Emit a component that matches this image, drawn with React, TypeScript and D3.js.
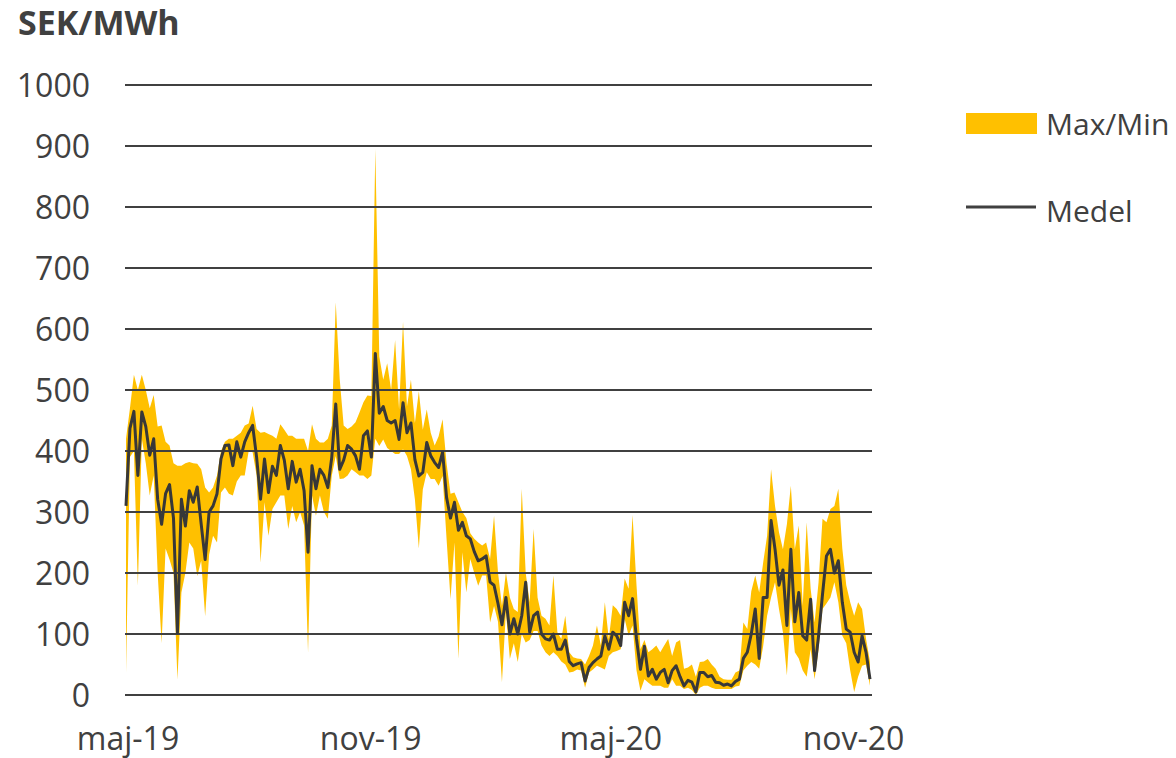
import React from "react";
import * as d3 from "d3";

// Daily spot price series sampled every 3 days, starting 2019-05-01 (SEK/MWh)
const START_DATE = "2019-05-01";
const STEP_DAYS = 3;

const medel: number[] = [
  310, 437, 465, 360, 464, 440, 393, 420, 321, 280, 330, 345, 290, 102, 321, 277, 335, 316, 341, 280,
  222, 300, 310, 330, 387, 409, 410, 376, 415, 390, 415, 430, 442, 390, 321, 387, 332, 375, 360, 409,
  385, 338, 383, 349, 370, 335, 234, 376, 338, 370, 360, 340, 390, 477, 370, 385, 409, 403, 392, 370,
  425, 433, 390, 560, 462, 473, 450, 446, 450, 419, 479, 430, 446, 386, 359, 365, 414, 392, 381, 373,
  398, 324, 290, 316, 270, 283, 261, 256, 235, 220, 223, 228, 185, 180, 150, 115, 160, 100, 125, 100,
  130, 185, 103, 130, 136, 100, 92, 90, 100, 75, 75, 90, 55, 48, 51, 53, 23, 45, 53, 59,
  64, 97, 75, 103, 97, 81, 152, 130, 158, 92, 42, 80, 31, 42, 26, 37, 42, 20, 40, 48,
  30, 15, 24, 21, 5, 37, 37, 30, 32, 21, 20, 16, 18, 15, 22, 26, 60, 70, 100, 141,
  60, 160, 160, 286, 239, 180, 205, 114, 239, 120, 168, 97, 90, 157, 40, 97, 165, 228, 239, 200,
  220, 152, 108, 103, 70, 54, 97, 70, 26,
];

const maxVal: number[] = [
  420, 470, 525, 500, 525, 500, 470, 492, 440, 442, 415, 409, 380, 376, 376, 380, 382, 380, 379, 370,
  340, 332, 340, 360, 400, 415, 420, 420, 425, 430, 442, 445, 474, 436, 430, 431, 428, 425, 420, 444,
  435, 425, 425, 420, 420, 420, 400, 444, 420, 414, 414, 420, 442, 644, 518, 442, 436, 440, 447, 463,
  480, 491, 490, 895, 555, 517, 544, 500, 582, 468, 612, 473, 517, 446, 498, 435, 468, 430, 409, 424,
  452, 380, 330, 332, 316, 300, 290, 265, 256, 250, 245, 250, 223, 294, 201, 146, 201, 160, 141, 136,
  338, 200, 152, 272, 160, 130, 125, 114, 196, 103, 92, 130, 70, 62, 60, 59, 50, 64, 81, 114,
  81, 152, 92, 147, 141, 130, 191, 174, 295, 180, 75, 90, 70, 75, 81, 70, 81, 92, 64, 86,
  90, 43, 45, 50, 30, 54, 55, 59, 50, 43, 30, 26, 25, 25, 37, 40, 119, 108, 170, 196,
  168, 217, 261, 370, 310, 267, 239, 280, 343, 239, 278, 146, 283, 174, 119, 185, 289, 283, 305, 310,
  338, 240, 180, 152, 130, 152, 141, 92, 54,
];

const minVal: number[] = [
  36, 390, 400, 179, 420, 380, 327, 360, 200, 85, 240, 222, 200, 25, 168, 200, 250, 240, 195, 220,
  129, 230, 261, 250, 332, 340, 330, 327, 350, 360, 360, 400, 398, 360, 217, 316, 261, 305, 316, 327,
  327, 272, 310, 283, 300, 278, 70, 327, 294, 327, 300, 289, 360, 392, 354, 355, 360, 370, 365, 360,
  360, 354, 360, 420, 408, 419, 405, 400, 395, 395, 403, 392, 370, 321, 240, 337, 365, 354, 354, 343,
  359, 256, 157, 250, 59, 234, 168, 223, 200, 179, 196, 196, 119, 146, 120, 21, 136, 59, 85, 54,
  100, 86, 90, 105, 105, 81, 70, 64, 70, 64, 55, 50, 37, 38, 42, 40, 12, 37, 42, 48,
  45, 42, 64, 70, 72, 75, 125, 97, 114, 40, 7, 26, 20, 15, 15, 15, 12, 12, 26, 15,
  15, 10, 12, 8, 0, 12, 15, 15, 12, 10, 10, 10, 10, 10, 14, 15, 40, 48, 54, 50,
  43, 80, 130, 160, 185, 141, 103, 32, 141, 70, 60, 40, 30, 75, 26, 75, 141, 150, 160, 185,
  152, 97, 85, 40, 5, 30, 48, 50, 15,
];

const yTicks: number[] = [0, 100, 200, 300, 400, 500, 600, 700, 800, 900, 1000];
const xTickDates: string[] = ["2019-05-01", "2019-11-01", "2020-05-01", "2020-11-01"];
const xTickLabels: string[] = ["maj-19", "nov-19", "maj-20", "nov-20"];

const W = 1176;
const H = 758;
const PLOT_LEFT = 125;
const PLOT_RIGHT = 872;
const TEXT = "#404040";
const GOLD = "#FFC000";
const FONT = "'Open Sans', 'Noto Sans', sans-serif";

export default function App() {
  const parse = d3.timeParse("%Y-%m-%d");
  const start = parse(START_DATE) as Date;
  const dates = medel.map((_, i) => d3.timeDay.offset(start, i * STEP_DAYS));

  const x = d3
    .scaleTime()
    .domain([start, parse("2020-11-15") as Date])
    .range([126, 870]);
  const y = d3.scaleLinear().domain([0, 1000]).range([695, 85]);

  const rows = dates.map((d, i) => ({ d, mean: medel[i], hi: maxVal[i], lo: minVal[i] }));

  const area = d3
    .area<(typeof rows)[number]>()
    .x((r) => x(r.d))
    .y0((r) => y(r.lo))
    .y1((r) => y(r.hi));
  const line = d3
    .line<(typeof rows)[number]>()
    .x((r) => x(r.d))
    .y((r) => y(r.mean));

  return (
    <svg
      width={W}
      height={H}
      style={{ position: "absolute", left: 0, top: 0, background: "#fff" }}
      fontFamily={FONT}
    >
      <text x={18} y={35} fontSize={34} fontWeight="bold" fill={TEXT}>
        SEK/MWh
      </text>

      <path d={area(rows) ?? ""} fill={GOLD} stroke="none" />

      {yTicks.map((t) => (
        <g key={t}>
          <line x1={PLOT_LEFT} x2={PLOT_RIGHT} y1={y(t)} y2={y(t)} stroke={TEXT} strokeWidth={2} />
          <text x={90} y={y(t) + 12} fontSize={32} textAnchor="end" fill={TEXT}>
            {t}
          </text>
        </g>
      ))}

      <path d={line(rows) ?? ""} fill="none" stroke="#383838" strokeWidth={3} strokeLinejoin="round" />

      {xTickDates.map((ds, i) => (
        <text key={ds} x={x(parse(ds) as Date) + 2} y={750} fontSize={32} textAnchor="middle" fill={TEXT}>
          {xTickLabels[i]}
        </text>
      ))}

      <rect x={966} y={113} width={71} height={21} fill={GOLD} />
      <text x={1046} y={135} fontSize={30} fill={TEXT}>
        Max/Min
      </text>
      <line x1={966} x2={1036} y1={207} y2={207} stroke={TEXT} strokeWidth={3} />
      <text x={1046} y={222} fontSize={30} fill={TEXT}>
        Medel
      </text>
    </svg>
  );
}
